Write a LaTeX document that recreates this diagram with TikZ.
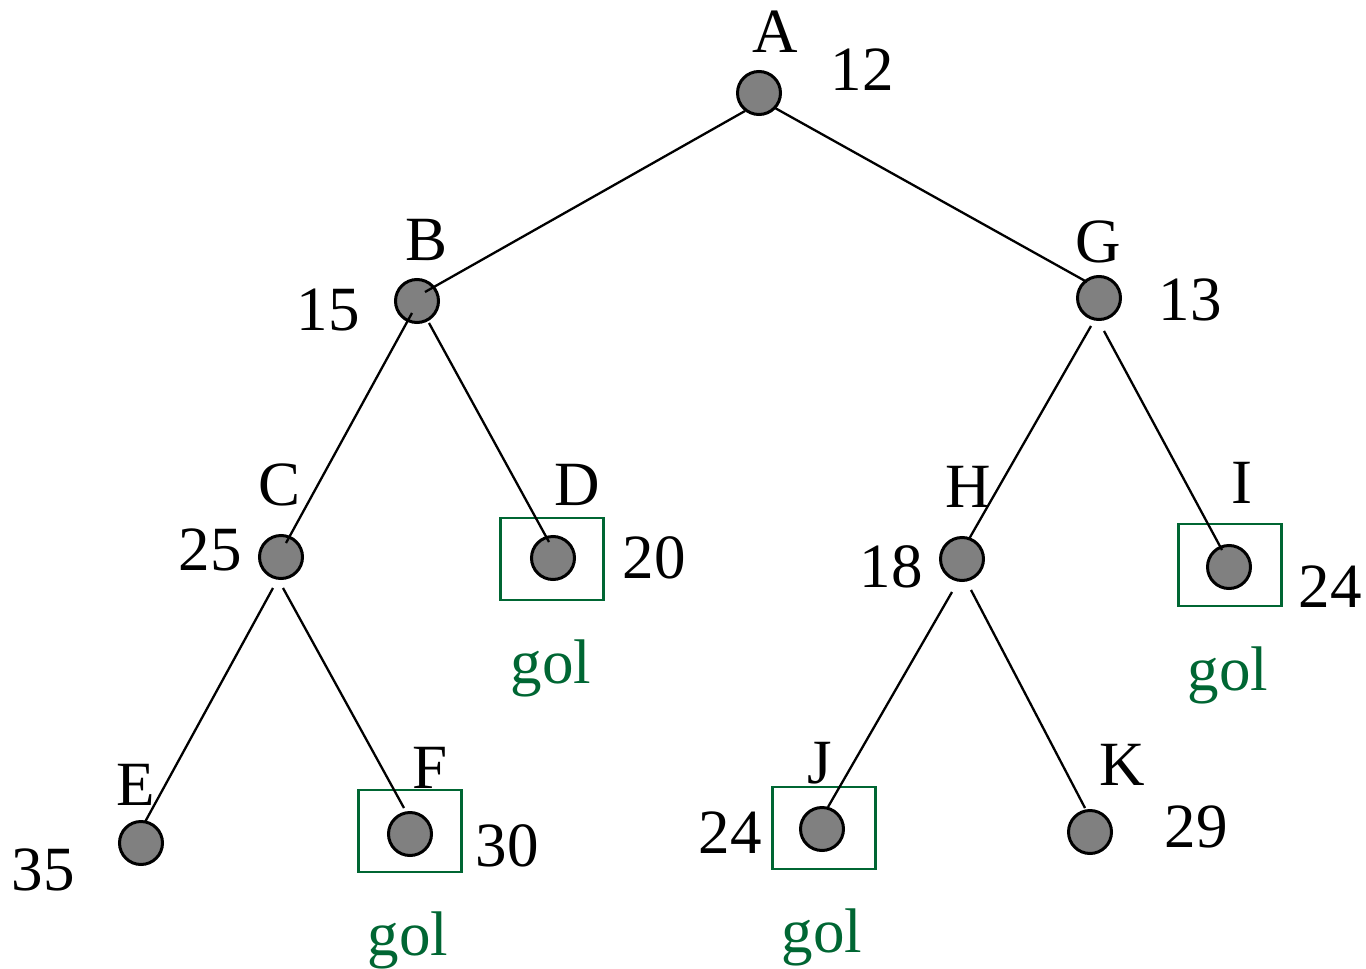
\documentclass[tikz,border=0pt]{standalone}
\usepackage{fontspec}
\setmainfont{Liberation Serif}
\definecolor{golgreen}{RGB}{0,102,51}
\definecolor{nodegray}{RGB}{128,128,128}
\begin{document}
\begin{tikzpicture}[x=0.5pt,y=-0.5pt,
  vertex/.style={circle,draw=black,fill=nodegray,line width=1.5pt,minimum size=21.5pt,inner sep=0pt},
  goalbox/.style={rectangle,draw=golgreen,line width=1.4pt,minimum width=51.5pt,minimum height=41pt,inner sep=0pt},
  lbl/.style={font=\fontsize{31.5}{33}\selectfont,anchor=base,inner sep=0pt},
  gol/.style={lbl,text=golgreen},
  edge/.style={line width=1.15pt,draw=black}]
\useasboundingbox (0,0) rectangle (1366,969);

% goal boxes
\node[goalbox] (Dbox) at (552,559) {};
\node[goalbox] (Ibox) at (1230,565) {};
\node[goalbox] (Fbox) at (410,831) {};
\node[goalbox] (Jbox) at (824,828) {};

% vertices
\node[vertex] (A) at (759,93) {};
\node[vertex] (B) at (417,301) {};
\node[vertex] (G) at (1099,298) {};
\node[vertex] (C) at (281,557) {};
\node[vertex] (D) at (553,558) {};
\node[vertex] (H) at (962,559) {};
\node[vertex] (I) at (1229,567) {};
\node[vertex] (E) at (141,843) {};
\node[vertex] (F) at (410,834) {};
\node[vertex] (J) at (822,829) {};
\node[vertex] (K) at (1090,832) {};

% tree edges
\draw[edge] ([shift={(-14,18)}]A.center) -- ([shift={(8,-9)}]B.center);
\draw[edge] ([shift={(16,15)}]A.center) -- ([shift={(-12,-16)}]G.center);
\draw[edge] ([shift={(-5,12)}]B.center) -- ([shift={(5,-14)}]C.center);
\draw[edge] ([shift={(12,22)}]B.center) -- ([shift={(-4,-16)}]D.center);
\draw[edge] ([shift={(-8,31)}]C.center) -- ([shift={(4,-21)}]E.center);
\draw[edge] ([shift={(2,31)}]C.center) -- ([shift={(-6,-26)}]F.center);
\draw[edge] ([shift={(-8,28)}]G.center) -- ([shift={(7,-20)}]H.center);
\draw[edge] ([shift={(5,33)}]G.center) -- ([shift={(-7,-17)}]I.center);
\draw[edge] ([shift={(-10,33)}]H.center) -- ([shift={(6,-22)}]J.center);
\draw[edge] ([shift={(9,31)}]H.center) -- ([shift={(-5,-24)}]K.center);

% names and costs
\node[lbl] (Aname) at (775,52) {A};
\node[lbl] (Acost) at (862,90) {12};
\node[lbl] (Bname) at (427,260) {B};
\node[lbl] (Bcost) at (328,330) {15};
\node[lbl] (Gname) at (1098,262) {G};
\node[lbl] (Gcost) at (1190,320) {13};
\node[lbl] (Cname) at (280,505) {C};
\node[lbl] (Ccost) at (210,570) {25};
\node[lbl] (Dname) at (577,505) {D};
\node[lbl] (Dcost) at (654,578) {20};
\node[lbl] (Hname) at (968,507) {H};
\node[lbl] (Hcost) at (891,587) {18};
\node[lbl] (Iname) at (1242,503) {I};
\node[lbl] (Icost) at (1330,607) {24};
\node[lbl] (Ename) at (136,805) {E};
\node[lbl] (Ecost) at (43,890) {35};
\node[lbl] (Fname) at (430,788) {F};
\node[lbl] (Fcost) at (507,866) {30};
\node[lbl] (Jname) at (820,783) {J};
\node[lbl] (Jcost) at (730,853) {24};
\node[lbl] (Kname) at (1122,785) {K};
\node[lbl] (Kcost) at (1196,847) {29};

% goal markers
\node[gol] (Dgol) at (551,683) {gol};
\node[gol] (Igol) at (1228,690) {gol};
\node[gol] (Fgol) at (408,955) {gol};
\node[gol] (Jgol) at (822,952) {gol};
\end{tikzpicture}
\end{document}
